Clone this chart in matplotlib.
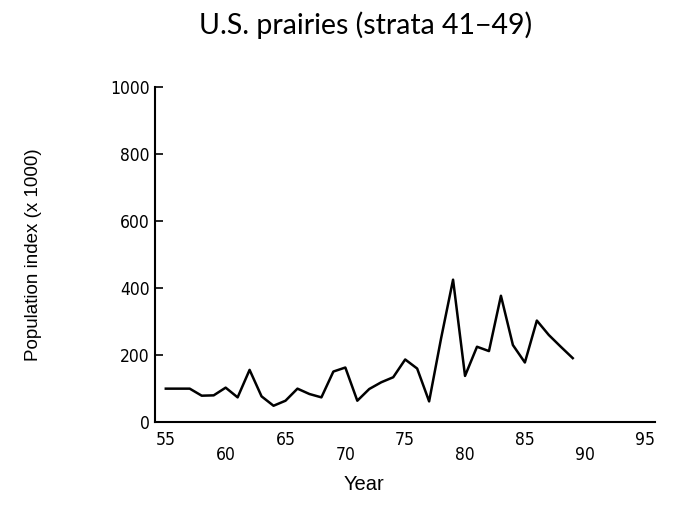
import matplotlib
matplotlib.use("Agg")
import matplotlib.pyplot as plt
from matplotlib import font_manager

years = list(range(1955, 1990))
pop_index = [100, 100, 100, 79, 80, 103, 74, 156, 77, 49,
             64, 100, 84, 74, 151, 163, 64, 99, 119, 134,
             187, 160, 62, 250, 425, 138, 225, 212, 377, 230,
             178, 303, 260, 225, 191]
top_ticks = [55, 65, 75, 85, 95]
low_ticks = [60, 70, 80, 90]
y_ticks = [0, 200, 400, 600, 800, 1000]

x = [y - 1900 for y in years]

# condensed digits if available
narrow = [f for f in font_manager.fontManager.ttflist
          if f.name == 'DejaVu Sans' and f.stretch == 'condensed'
          and f.weight == 400 and f.style == 'normal']
if narrow:
    tick_kw = dict(fontproperties=font_manager.FontProperties(fname=narrow[0].fname, size=12.5))
else:
    tick_kw = dict(fontfamily='DejaVu Sans', fontsize=11.5)

fig = plt.figure(figsize=(6.77, 5.05), dpi=100)
ax = fig.add_axes([0.229, 0.164, 0.739, 0.664])

ax.plot(x, pop_index, color='black', linewidth=1.8)

ax.set_xlim(54.1, 95.9)
ax.set_ylim(0, 1000)

for s in ['top', 'right']:
    ax.spines[s].set_visible(False)
ax.spines['left'].set_linewidth(1.5)
ax.spines['bottom'].set_linewidth(1.5)

ax.set_yticks(y_ticks)
ax.set_yticklabels([str(v) for v in y_ticks], **tick_kw)
ax.tick_params(axis='y', direction='in', length=6, width=1.2, pad=4)

ax.set_xticks(top_ticks)
ax.set_xticks(low_ticks, minor=True)
ax.set_xticklabels([str(t) for t in top_ticks], **tick_kw)
ax.set_xticklabels([str(t) for t in low_ticks], minor=True, **tick_kw)
ax.tick_params(axis='x', which='major', length=0, pad=6)
ax.tick_params(axis='x', which='minor', length=0, pad=17.5)

ax.set_xlabel('Year', fontsize=14.5, fontfamily='Liberation Sans')
ax.xaxis.set_label_coords(0.418, -0.158)
ax.set_ylabel('Population index (x 1000)', fontsize=13.5, fontfamily='Liberation Sans')
ax.yaxis.set_label_coords(-0.226, 0.5)

fig.suptitle('U.S. prairies (strata 41\u221249)', fontsize=20.5, color='black',
             fontfamily=['Lato', 'DejaVu Sans'], x=0.54, y=0.978)

fig.savefig('out.png', dpi=100)
